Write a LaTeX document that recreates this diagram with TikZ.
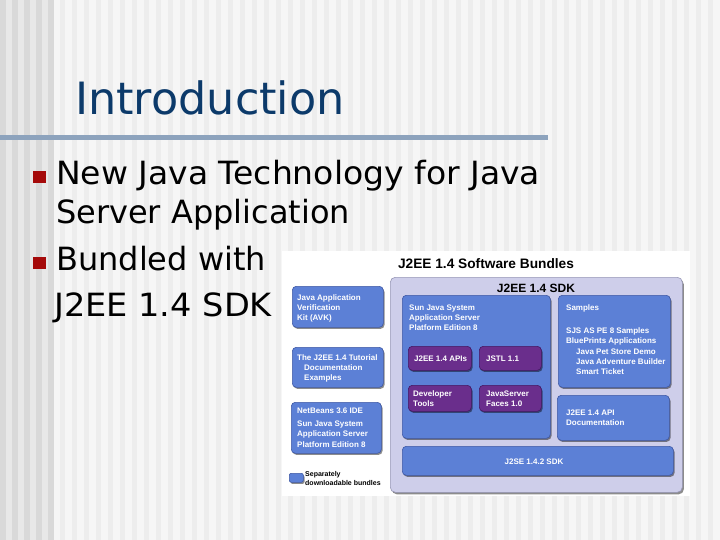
\documentclass[tikz,border=0pt]{standalone}
\usepackage{fontspec}
\setmainfont{DejaVu Sans}
\newfontfamily\arialf{Liberation Sans}
\usetikzlibrary{shadows}
\definecolor{bgleftbase}{RGB}{232,232,232}
\definecolor{bgleftdark}{RGB}{217,217,217}
\definecolor{bgbase}{RGB}{246,246,246}
\definecolor{bgstripe}{RGB}{237,237,237}
\definecolor{titleblue}{RGB}{12,58,106}
\definecolor{rulecol}{RGB}{141,163,189}
\definecolor{bulletred}{RGB}{165,10,10}
\definecolor{sjblue}{RGB}{92,128,214}
\definecolor{sjblueedge}{RGB}{62,88,165}
\definecolor{sjpurple}{RGB}{106,46,140}
\definecolor{sjpurpleedge}{RGB}{70,22,98}
\definecolor{lavender}{RGB}{206,206,234}
\definecolor{lavedge}{RGB}{150,150,182}
\begin{document}
\begin{tikzpicture}[x=1pt,y=-1pt,
  bluebox/.style={fill=sjblue, draw=sjblueedge, line width=0.6pt, rounded corners=4pt, inner sep=0pt, anchor=north west,
    drop shadow={shadow xshift=1.2pt, shadow yshift=-1.6pt, fill=black, opacity=0.45}},
  purplebox/.style={fill=sjpurple, draw=sjpurpleedge, line width=0.6pt, rounded corners=4pt, inner sep=0pt, anchor=north west,
    drop shadow={shadow xshift=1.2pt, shadow yshift=-1.6pt, fill=black, opacity=0.45}},
  lavbox/.style={fill=lavender, draw=lavedge, line width=0.6pt, rounded corners=5pt, inner sep=0pt, anchor=north west,
    drop shadow={shadow xshift=1.5pt, shadow yshift=-2pt, fill=black, opacity=0.45}},
  dtext/.style={font=\arialf\bfseries\fontsize{8}{10}\selectfont, text=white, inner sep=0pt, anchor=base west},
  dhead/.style={font=\arialf\bfseries\fontsize{13.7}{15}\selectfont, text=black, inner sep=0pt, anchor=base},
  legtext/.style={font=\arialf\bfseries\fontsize{7}{8}\selectfont, text=black, inner sep=0pt, anchor=base west},
  slidetext/.style={font=\fontsize{32}{38}\selectfont, text=black, inner sep=0pt, anchor=base west},
  bulletsq/.style={fill=bulletred, draw=none, inner sep=0pt, minimum width=13pt, minimum height=12pt, anchor=north west}
]
\useasboundingbox (0,0) rectangle (720,540);
% background stripes
\fill[bgbase] (0,0) rectangle (720,540);
\fill[bgleftbase] (0,0) rectangle (53,540);
\foreach \x in {0,12,...,48} \fill[bgleftdark] (\x,0) rectangle (\x+6,540);
\fill[bgleftdark] (48,0) rectangle (53,540);
\foreach \x in {60,72,...,714} \fill[bgstripe] (\x,0) rectangle (\x+5,540);

% title and rule
\node[font=\fontsize{44.5}{50}\selectfont, text=titleblue, inner sep=0pt, anchor=base west] (title) at (75,115) {Introduction};
\fill[rulecol] (0,135) rectangle (548,140);

% bullets
\node[bulletsq] (b1) at (33,171) {};
\node[bulletsq] (b2) at (33,257) {};
\node[slidetext] (l1) at (56,185) {\scalebox{1.032}[1]{New Java Technology for Java}};
\node[slidetext] (l2) at (56,223) {Server Application};
\node[slidetext] (l3) at (56,270) {Bundled with};
\node[slidetext] (l4) at (54,316) {\scalebox{1.05}[1]{J2EE 1.4 SDK}};

% diagram background
\fill[white] (282,251) rectangle (690,496);
\node[dhead] (dtitle) at (486,268) {J2EE 1.4 Software Bundles};

% lavender SDK panel
\node[lavbox, minimum width=292pt, minimum height=215pt] (sdk) at (390,277) {};
\node[dhead, font=\arialf\bfseries\fontsize{12}{14}\selectfont] (sdkh) at (536,292) {J2EE 1.4 SDK};

% app server
\node[bluebox, minimum width=148pt, minimum height=143pt] (as) at (402,295) {};
\node[dtext] (as1) at (409,310) {Sun Java System};
\node[dtext] (as2) at (409,320) {Application Server};
\node[dtext] (as3) at (409,330) {Platform Edition 8};

% purple boxes
\node[purplebox, minimum width=63pt, minimum height=24pt] (apis) at (408,346) {};
\node[dtext] (apist) at (414,361.5) {J2EE 1.4 APIs};
\node[purplebox, minimum width=62pt, minimum height=24pt] (jstl) at (479,346) {};
\node[dtext] (jstlt) at (486,361.5) {JSTL 1.1};
\node[purplebox, minimum width=63pt, minimum height=26pt] (dev) at (408,385) {};
\node[dtext] (dev1) at (413,396.5) {Developer};
\node[dtext] (dev2) at (413,406.5) {Tools};
\node[purplebox, minimum width=62pt, minimum height=26pt] (jsf) at (479,385) {};
\node[dtext] (jsf1) at (486,396.5) {JavaServer};
\node[dtext] (jsf2) at (486,406.5) {Faces 1.0};

% samples
\node[bluebox, minimum width=112pt, minimum height=92pt] (samp) at (558,295) {};
\node[dtext] (s0) at (566,310) {Samples};
\node[dtext] (s1) at (566,333.5) {SJS AS PE 8 Samples};
\node[dtext] (s2) at (566,343.8) {BluePrints Applications};
\node[dtext] (s3) at (576,354.1) {Java Pet Store Demo};
\node[dtext] (s4) at (576,364.4) {Java Adventure Builder};
\node[dtext] (s5) at (576,374.7) {Smart Ticket};

% api doc
\node[bluebox, minimum width=112pt, minimum height=45pt] (doc) at (557,395) {};
\node[dtext] (doc1) at (566,415.5) {J2EE 1.4 API};
\node[dtext] (doc2) at (566,425.5) {Documentation};

% j2se
\node[bluebox, minimum width=271pt, minimum height=29pt] (j2se) at (402,446) {};
\node[dtext, anchor=base] (j2set) at (534,464.5) {J2SE 1.4.2 SDK};

% left boxes
\node[bluebox, minimum width=91pt, minimum height=41pt] (avk) at (292,286) {};
\node[dtext] (avk1) at (297,300.5) {Java Application};
\node[dtext] (avk2) at (297,310.5) {Verification};
\node[dtext] (avk3) at (297,320.5) {Kit (AVK)};

\node[bluebox, minimum width=91pt, minimum height=40pt] (tut) at (292,347) {};
\node[dtext] (tut1) at (297,360.5) {The J2EE 1.4 Tutorial};
\node[dtext] (tut2) at (304,370.5) {Documentation};
\node[dtext] (tut3) at (304,380.5) {Examples};

\node[bluebox, minimum width=90pt, minimum height=51pt] (nb) at (291,402) {};
\node[dtext] (nb1) at (297,413.5) {NetBeans 3.6 IDE};
\node[dtext] (nb2) at (297,426.5) {Sun Java System};
\node[dtext] (nb3) at (297,436.5) {Application Server};
\node[dtext] (nb4) at (297,447) {Platform Edition 8};

% legend
\node[bluebox, rounded corners=2pt, minimum width=14pt, minimum height=9pt] (leg) at (289,473) {};
\node[legtext] (leg1) at (305,476.5) {Separately};
\node[legtext] (leg2) at (305,485.5) {downloadable bundles};
\end{tikzpicture}
\end{document}
